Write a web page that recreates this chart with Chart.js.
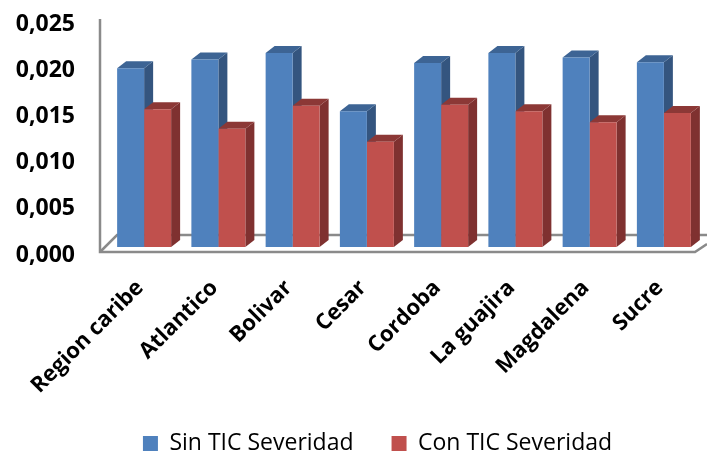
<!DOCTYPE html>
<html>
<head>
<meta charset="utf-8">
<script src="https://cdn.jsdelivr.net/npm/chart.js@4"></script>
<style>
    body { margin: 0; background: #fff; }
    canvas { display: block; }
</style>
</head>
<body>
<canvas id="grafica" width="707" height="455"></canvas>
<script>
const categories = ['Region caribe', 'Atlantico', 'Bolivar', 'Cesar', 'Cordoba', 'La guajira', 'Magdalena', 'Sucre'];
const sinTic = [0.01935, 0.0203, 0.0210, 0.0147, 0.0199, 0.0210, 0.0205, 0.0200];
const conTic = [0.0149, 0.0128, 0.0153, 0.0114, 0.0154, 0.0147, 0.0135, 0.0145];
const tickLabels = ['0,000', '0,005', '0,010', '0,015', '0,020', '0,025'];

// profundidad del efecto 3D
const depthX = 9;
const depthY = 7;
const zeroShift = 5; // la linea frontal queda por debajo de la base de las barras

function face(ctx, pts, color) {
    ctx.fillStyle = color;
    ctx.beginPath();
    pts.forEach((p, i) => i ? ctx.lineTo(p[0], p[1]) : ctx.moveTo(p[0], p[1]));
    ctx.closePath();
    ctx.fill();
}

// paredes y piso, luego caras lateral y superior de cada barra
const depthPlugin = {
    id: 'depth',
    afterLayout(chart) {
        // la leyenda va corrida a la derecha del centro
        chart.legend.left = 54;
    },
    beforeDatasetsDraw(chart) {
        const { ctx, chartArea, scales } = chart;
        const front = scales.y.getPixelForValue(0) + zeroShift;
        const back = front - 17;
        const left = chartArea.left - 7;
        ctx.save();
        ctx.strokeStyle = '#8a8a8a';
        ctx.lineWidth = 2.5;
        ctx.beginPath();
        ctx.moveTo(left, scales.y.getPixelForValue(0.025) + zeroShift - 2);
        ctx.lineTo(left, front);
        ctx.lineTo(695, front);
        ctx.lineTo(707, front - 8);
        ctx.stroke();
        ctx.beginPath();
        ctx.moveTo(left, front);
        ctx.lineTo(left + 17, back);
        ctx.lineTo(707, back);
        ctx.stroke();

        chart.data.datasets.forEach((ds, i) => {
            chart.getDatasetMeta(i).data.forEach(bar => {
                const l = bar.x - bar.width / 2;
                const r = bar.x + bar.width / 2;
                const t = bar.y;
                const b = bar.base;
                face(ctx, [[r, t], [r + depthX, t - depthY], [r + depthX, b - depthY], [r, b]], ds.sideColor);
                face(ctx, [[l, t], [l + depthX, t - depthY], [r + depthX, t - depthY], [r, t]], ds.topColor);
            });
        });
        ctx.restore();
    }
};

new Chart(document.getElementById('grafica'), {
    type: 'bar',
    data: {
        labels: categories,
        datasets: [
            {
                label: 'Sin TIC Severidad',
                data: sinTic,
                backgroundColor: '#4F81BD',
                sideColor: '#34557F',
                topColor: '#3D6494'
            },
            {
                label: 'Con TIC Severidad',
                data: conTic,
                backgroundColor: '#C0504D',
                sideColor: '#7F3130',
                topColor: '#8C3836'
            }
        ]
    },
    plugins: [depthPlugin],
    options: {
        responsive: false,
        animation: false,
        categoryPercentage: 0.727,
        barPercentage: 1,
        layout: { padding: { top: 16, right: 6, bottom: -10 } },
        scales: {
            x: {
                grid: { display: false, drawTicks: false },
                border: { display: false },
                ticks: {
                    color: '#000',
                    font: { family: 'Open Sans', size: 22, weight: 'bold' },
                    minRotation: 45,
                    maxRotation: 45,
                    autoSkip: false,
                    padding: 28,
                    labelOffset: -4
                },
                afterFit(scale) {
                    scale.height = 147;
                    scale.paddingLeft = 0;
                    scale.paddingRight = 0;
                }
            },
            y: {
                min: 0,
                max: 0.025,
                grid: { display: false, drawTicks: false },
                border: { display: false },
                ticks: {
                    stepSize: 0.005,
                    color: '#000',
                    font: { family: 'Open Sans', size: 23, weight: 'bold' },
                    padding: 32,
                    labelOffset: zeroShift + 3,
                    callback: (value, i) => tickLabels[i]
                },
                afterFit(scale) {
                    scale.width = 107;
                    scale.paddingTop = 0;
                    scale.paddingBottom = 0;
                }
            }
        },
        plugins: {
            legend: {
                position: 'bottom',
                labels: {
                    color: '#000',
                    font: { family: 'Open Sans', size: 23 },
                    boxWidth: 15,
                    boxHeight: 15,
                    padding: 38
                }
            },
            tooltip: { enabled: false }
        }
    }
});
</script>
</body>
</html>
